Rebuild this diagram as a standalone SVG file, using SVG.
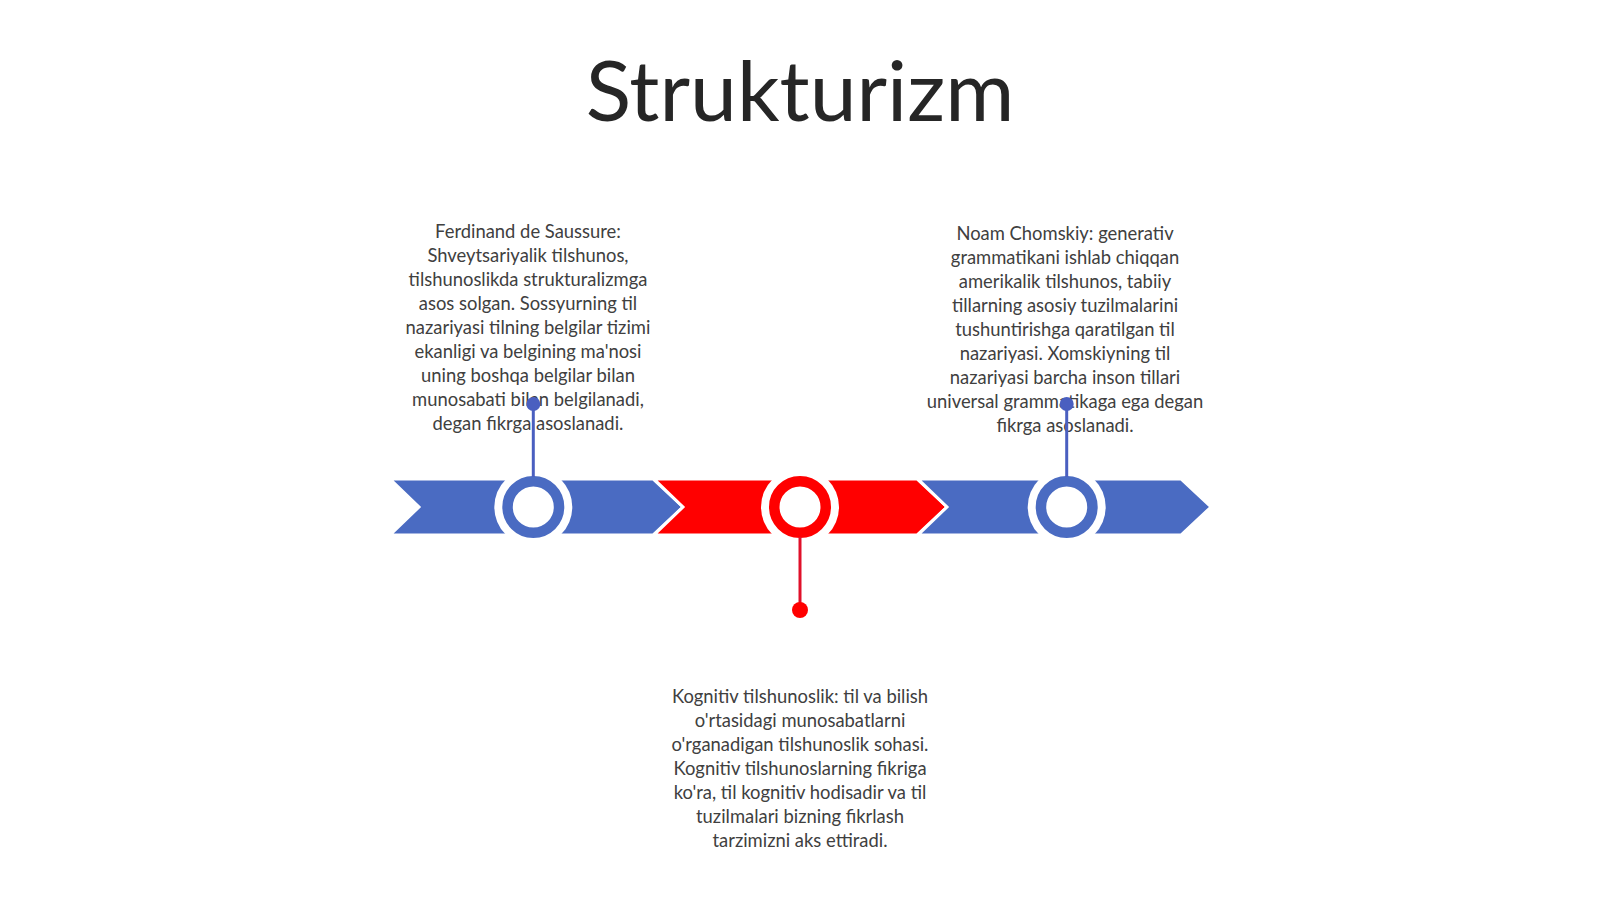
<svg xmlns="http://www.w3.org/2000/svg" width="1600" height="899" viewBox="0 0 1600 899">
<style>
.t{font-family:Lato,"Open Sans","Liberation Sans",sans-serif;font-size:18.4px;fill:#404040;text-anchor:middle}
.title{font-family:Lato,"Open Sans","Liberation Sans",sans-serif;font-size:84px;fill:#262626;text-anchor:middle}
.blue{fill:#4A6BC2;stroke:#fff;stroke-width:3}
.red{fill:#FF0000;stroke:#fff;stroke-width:3}
.halo{fill:#fff}
.ringb{fill:#fff;stroke:#4A6BC2;stroke-width:10.5}
.ringr{fill:#fff;stroke:#FF0000;stroke-width:10.5}
</style>
<rect width="1600" height="899" fill="#fff"/>
<text class="title" x="800" y="121">Strukturizm</text>
<g id="band">
<polygon class="blue" points="390,479 653,479 683,507 653,535 390,535 419,507"/>
<polygon class="red" points="654,479 917,479 947,507 917,535 654,535 683,507"/>
<polygon class="blue" points="918,479 1181,479 1211,507 1181,535 918,535 947,507"/>
</g>
<g id="node1">
<circle class="halo" cx="533.3" cy="507" r="39"/>
<circle class="ringb" cx="533.3" cy="507" r="25.75"/>
<text class="t" x="528" y="238">Ferdinand de Saussure:<tspan x="528" dy="24">Shveytsariyalik tilshunos,</tspan><tspan x="528" dy="24">tilshunoslikda strukturalizmga</tspan><tspan x="528" dy="24">asos solgan. Sossyurning til</tspan><tspan x="528" dy="24">nazariyasi tilning belgilar tizimi</tspan><tspan x="528" dy="24">ekanligi va belgining ma'nosi</tspan><tspan x="528" dy="24">uning boshqa belgilar bilan</tspan><tspan x="528" dy="24">munosabati bilan belgilanadi,</tspan><tspan x="528" dy="24">degan fikrga asoslanadi.</tspan></text>
</g>
<g id="node2">
<circle class="halo" cx="800" cy="507" r="39"/>
<circle class="ringr" cx="800" cy="507" r="25.75"/>
<text class="t" x="800" y="703">Kognitiv tilshunoslik: til va bilish<tspan x="800" dy="24">o'rtasidagi munosabatlarni</tspan><tspan x="800" dy="24">o'rganadigan tilshunoslik sohasi.</tspan><tspan x="800" dy="24">Kognitiv tilshunoslarning fikriga</tspan><tspan x="800" dy="24">ko'ra, til kognitiv hodisadir va til</tspan><tspan x="800" dy="24">tuzilmalari bizning fikrlash</tspan><tspan x="800" dy="24">tarzimizni aks ettiradi.</tspan></text>
</g>
<g id="node3">
<circle class="halo" cx="1066.7" cy="507" r="39"/>
<circle class="ringb" cx="1066.7" cy="507" r="25.75"/>
<text class="t" x="1065" y="240">Noam Chomskiy: generativ<tspan x="1065" dy="24">grammatikani ishlab chiqqan</tspan><tspan x="1065" dy="24">amerikalik tilshunos, tabiiy</tspan><tspan x="1065" dy="24">tillarning asosiy tuzilmalarini</tspan><tspan x="1065" dy="24">tushuntirishga qaratilgan til</tspan><tspan x="1065" dy="24">nazariyasi. Xomskiyning til</tspan><tspan x="1065" dy="24">nazariyasi barcha inson tillari</tspan><tspan x="1065" dy="24">universal grammatikaga ega degan</tspan><tspan x="1065" dy="24">fikrga asoslanadi.</tspan></text>
</g>
<g id="connectors">
<line x1="533.3" y1="404" x2="533.3" y2="477" stroke="#4A5FC0" stroke-width="3"/>
<circle cx="533.3" cy="404" r="7" fill="#4A5FC0"/>
<line x1="1066.7" y1="404" x2="1066.7" y2="477" stroke="#4A5FC0" stroke-width="3"/>
<circle cx="1066.7" cy="404" r="7" fill="#4A5FC0"/>
<line x1="800" y1="537" x2="800" y2="610" stroke="#E0102A" stroke-width="3"/>
<circle cx="800" cy="610" r="8" fill="#FF0000"/>
</g>
</svg>
